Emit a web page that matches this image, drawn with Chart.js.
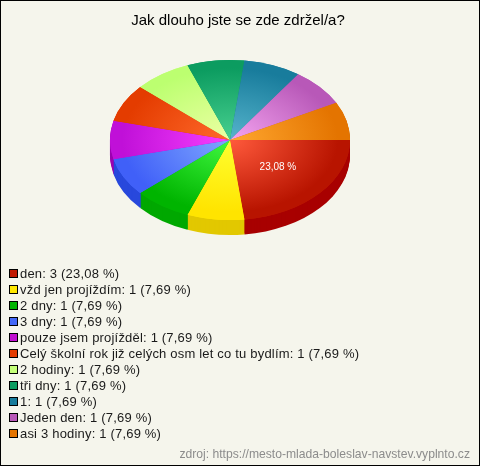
<!DOCTYPE html>
<html>
<head>
<meta charset="utf-8">
<style>
  html, body { margin: 0; padding: 0; overflow: hidden; background: #f5f5ec; }
  #wrap { position: relative; width: 480px; height: 466px; }
  canvas { display: block; outline: 1px solid #000; outline-offset: -1px; }
  #legend { position: absolute; left: 9px; top: 266px; font: 13px Arial, "Liberation Sans", sans-serif; letter-spacing: 0.19px; color: #1a1a1a; }
  #legend div { height: 16px; line-height: 16px; white-space: nowrap; }
  #legend i { display: inline-block; width: 7px; height: 7px; border: 1px solid #000; margin-right: 2px; }
  #source { position: absolute; right: 10px; top: 447px; font: 12.15px Arial, "Liberation Sans", sans-serif; color: #8c8c8c; white-space: nowrap; }
</style>
<script src="https://cdn.jsdelivr.net/npm/chart.js@4"></script>
</head>
<body>
<div id="wrap">
  <canvas id="pie" width="480" height="466"></canvas>
  <div id="legend"></div>
  <div id="source">zdroj: https://mesto-mlada-boleslav-navstev.vyplnto.cz</div>
</div>
<script>
// data
const categories = ['den', 'vžd jen projíždím', '2 dny', '3 dny', 'pouze jsem projížděl',
  'Celý školní rok již celých osm let co tu bydlím', '2 hodiny', 'tři dny', '1', 'Jeden den', 'asi 3 hodiny'];
const counts = [3, 1, 1, 1, 1, 1, 1, 1, 1, 1, 1];
const percents = ['23,08', '7,69', '7,69', '7,69', '7,69', '7,69', '7,69', '7,69', '7,69', '7,69', '7,69'];

const innerColors = ['#ff5a3c', '#ffff30', '#40f840', '#80a8ff', '#f840ff', '#ff6a2c', '#ecffa4', '#48d090', '#56b4cc', '#f4a4f0', '#ffa830'];
const outerColors = ['#b81400', '#ffe400', '#00b400', '#4060f8', '#c010d8', '#e43c00', '#bcff70', '#0c9c60', '#187c9c', '#b858b8', '#e47400'];
const sideColors = ['#a80000', '#e2c800', '#00a800', '#2848dc', '#9c00b0', '#b02c00', '#90c850', '#087848', '#105c78', '#8c4090', '#b05800'];
const legendColors = ['#c01800', '#ffe800', '#00b400', '#4468f8', '#c010d0', '#e43c00', '#c4ff78', '#0c9c60', '#187c9c', '#b858b8', '#e47400'];

// where the tilted pie sits on the page
const PIE_X = 230, PIE_Y = 140, TILT = 2 / 3, DEPTH = 15;

function tilt(ctx, arc) {
  ctx.translate(PIE_X, PIE_Y);
  ctx.scale(1, TILT);
  ctx.translate(-arc.x, -arc.y);
}

const pie3d = {
  id: 'pie3d',
  beforeDatasetsDraw(chart) {
    const ctx = chart.ctx;
    const arcs = chart.getDatasetMeta(0).data;
    // rim: same wedges stacked downwards in flat colours, last layer hides the seams of the top
    for (let d = DEPTH; d >= 0; d--) {
      arcs.forEach((arc, i) => {
        ctx.save();
        ctx.translate(0, d);
        tilt(ctx, arc);
        ctx.beginPath();
        ctx.moveTo(arc.x, arc.y);
        ctx.arc(arc.x, arc.y, arc.outerRadius, arc.startAngle, arc.endAngle);
        ctx.closePath();
        ctx.fillStyle = d === 0 ? legendColors[i] : sideColors[i];
        ctx.fill();
        ctx.restore();
      });
    }
    ctx.save();
    tilt(ctx, arcs[0]);
  },
  afterDatasetsDraw(chart) {
    const ctx = chart.ctx;
    ctx.restore();
    // only the biggest slice gets a label
    const arc = chart.getDatasetMeta(0).data[0];
    const p = arc.tooltipPosition();
    ctx.save();
    ctx.fillStyle = '#fff';
    ctx.font = '10px Arial, "Liberation Sans", sans-serif';
    ctx.textAlign = 'center';
    ctx.textBaseline = 'middle';
    ctx.fillText(percents[0] + ' %', PIE_X + (p.x - arc.x) + 3, PIE_Y + (p.y - arc.y) * TILT + 1);
    ctx.restore();
  }
};

new Chart(document.getElementById('pie'), {
  type: 'pie',
  data: {
    labels: categories,
    datasets: [{
      data: counts,
      borderWidth: 0,
      hoverOffset: 0,
      backgroundColor(c) {
        const area = c.chart.chartArea;
        if (!area) return outerColors[c.dataIndex];
        const x = (area.left + area.right) / 2, y = (area.top + area.bottom) / 2;
        const g = c.chart.ctx.createRadialGradient(x, y, 0, x, y, 120);
        g.addColorStop(0, innerColors[c.dataIndex]);
        g.addColorStop(0.9, outerColors[c.dataIndex]);
        g.addColorStop(1, outerColors[c.dataIndex]);
        return g;
      }
    }]
  },
  options: {
    responsive: false,
    animation: false,
    rotation: 90,
    layout: { padding: { left: 118, right: 122, top: 0, bottom: 196 } },
    plugins: {
      legend: { display: false },
      tooltip: { enabled: false },
      title: {
        display: true,
        text: 'Jak dlouho jste se zde zdržel/a?',
        color: '#000',
        font: { family: 'Arial, "Liberation Sans", sans-serif', size: 15, weight: 'normal' },
        padding: { top: 12, bottom: 0 }
      }
    }
  },
  plugins: [pie3d]
});

const legend = document.getElementById('legend');
categories.forEach((name, i) => {
  const row = document.createElement('div');
  const box = document.createElement('i');
  box.style.background = legendColors[i];
  row.appendChild(box);
  row.appendChild(document.createTextNode(`${name}: ${counts[i]} (${percents[i]} %)`));
  legend.appendChild(row);
});
</script>
</body>
</html>
